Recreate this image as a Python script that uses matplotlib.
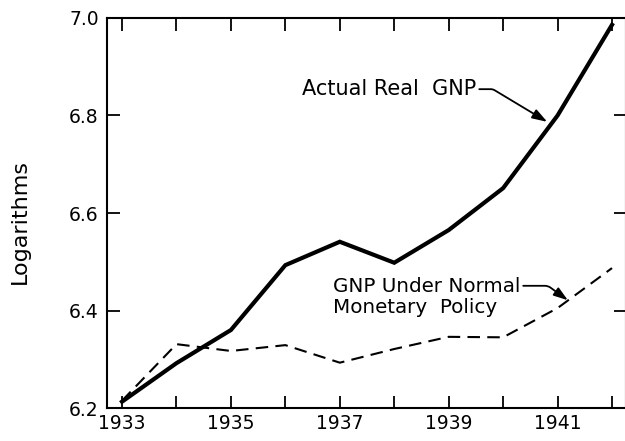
import matplotlib
matplotlib.use("Agg")
import matplotlib.pyplot as plt

# data
years = [1933, 1934, 1935, 1936, 1937, 1938, 1939, 1940, 1941, 1942]
actual_gnp = [6.213, 6.292, 6.360, 6.493, 6.541, 6.498, 6.565, 6.651, 6.800, 6.986]
normal_gnp = [6.215, 6.331, 6.317, 6.329, 6.293, 6.321, 6.346, 6.345, 6.405, 6.487]
x_labels = ["1933", "", "1935", "", "1937", "", "1939", "", "1941", ""]
y_ticks = [6.2, 6.4, 6.6, 6.8, 7.0]

fig = plt.figure(figsize=(6.25, 4.41), dpi=100)
ax = fig.add_axes([0.1712, 0.0748, 0.8304, 0.8844])

ax.plot(years, actual_gnp, color="black", linewidth=3.0, solid_joinstyle="miter")
ax.plot(years, normal_gnp, color="black", linewidth=1.5, linestyle=(0, (6, 3.5)))

ax.set_xlim(1932.724, 1942.257)
ax.set_ylim(6.2, 7.0)
ax.set_xticks(years)
ax.set_xticklabels(x_labels)
ax.set_yticks(y_ticks)
ax.set_yticklabels([f"{v:.1f}" for v in y_ticks])

for side in ["left", "right", "top", "bottom"]:
    ax.spines[side].set_linewidth(1.5)
ax.tick_params(direction="in", length=9, width=1.3, top=True, right=True,
               labelsize=13.5, colors="black")
ax.tick_params(axis="x", pad=4)
ax.tick_params(axis="y", pad=6)

fig.text(20 / 625, 1 - 222 / 441, "Logarithms", rotation=90,
         ha="center", va="center", fontsize=16)

# labels with arrows
ax.annotate("Actual Real  GNP", xy=(1940.81, 6.787), xytext=(1936.31, 6.854),
            ha="left", va="center", fontsize=15,
            arrowprops=dict(arrowstyle="-|>,head_length=0.6,head_width=0.2",
                            color="black", lw=1.3, relpos=(1, 0.5),
                            connectionstyle="angle,angleA=0,angleB=-31,rad=2",
                            shrinkA=0, shrinkB=0))
ax.annotate("GNP Under Normal\nMonetary  Policy", xy=(1941.19, 6.421),
            xytext=(1936.876, 6.428), ha="left", va="center", fontsize=14.3,
            linespacing=1.1,
            arrowprops=dict(arrowstyle="-|>,head_length=0.6,head_width=0.2",
                            color="black", lw=1.3, relpos=(1, 0.78),
                            connectionstyle="angle,angleA=0,angleB=-36,rad=3",
                            shrinkA=0, shrinkB=0))

fig.savefig("out.png", dpi=100)
